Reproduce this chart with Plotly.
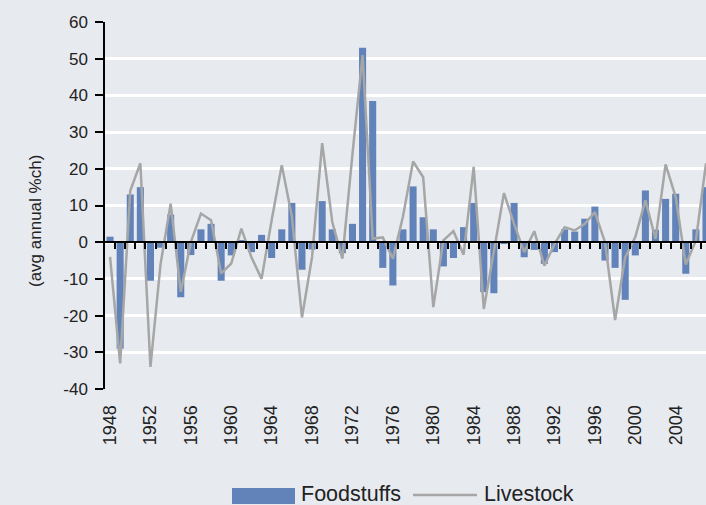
import plotly.graph_objects as go

years = list(range(1948, 2008))
foodstuffs = [1.5, -29, 13, 15, -10.5, -1.5, 7.5, -15, -3.5, 3.5,
              5, -10.5, -3.6, 0.6, -2.7, 2, -4.3, 3.5, 10.7, -7.5,
              -2, 11.2, 3.5, -3, 5, 53, 38.5, -7, -11.8, 3.5,
              15.2, 6.8, 3.5, -6.6, -4.3, 4.1, 10.7, -13.6, -13.9, -0.5,
              10.7, -4.1, -2.1, -5.9, -2.7, 3.5, 2.9, 6.4, 9.7, -5,
              -7, -15.7, -3.6, 14.1, 3.4, 11.8, 13.2, -8.6, 3.5, 15]
livestock = [-4, -33, 14, 21.5, -34, -6, 10.5, -13.5, 0, 7.8,
             6, -8.5, -5.8, 3.7, -4.1, -10, 6, 21, 7, -20.5,
             -4, 27, 5.5, -4.5, 24, 51, 1, 1.3, -4.5, 7,
             22, 17.7, -17.7, 0.5, 3, -3.4, 20.5, -18.2, -2.5, 13.4,
             5, -2.7, 3, -6.4, -0.5, 4.1, 3.2, 5, 8.2, 0,
             -21.2, -4.1, 1.4, 11.4, 0.9, 21.2, 12.3, -6.1, 0.5, 21.5]
tick_years = list(range(1948, 2005, 4))
y_ticks = list(range(-40, 61, 10))

BG = "#E7EAEF"
BAR = "#6283B9"
LINE = "#A6A6A6"
FONT = "Liberation Sans, Arial, sans-serif"

L, R, T, B = 105, 0, 22, 116
W, H = 706, 505
pw = W - L - R
ph = H - T - B
def px(x): return (x - L) / pw
def py(y): return (H - B - y) / ph

fig = go.Figure()
fig.add_trace(go.Bar(x=years, y=foodstuffs, name="Foodstuffs",
                     marker=dict(color=BAR, line=dict(width=0)),
                     showlegend=False))
fig.add_trace(go.Scatter(x=years, y=livestock, name="Livestock", mode="lines",
                         line=dict(color=LINE, width=2.5), xaxis="x2",
                         showlegend=False))

xr = [1947.5, 2007.0]
fig.update_layout(
    width=W, height=H,
    margin=dict(l=L, r=R, t=T, b=B, pad=0),
    paper_bgcolor=BG, plot_bgcolor=BG,
    bargap=0.3,
    font=dict(family=FONT, color="#222222", size=16),
    xaxis=dict(range=xr, tickmode="array", tickvals=tick_years,
               ticktext=[str(y) for y in tick_years], tickangle=-90,
               showgrid=False, zeroline=False, showline=False,
               ticks="outside", ticklen=8, tickcolor="rgba(0,0,0,0)",
               tickfont=dict(size=18)),
    xaxis2=dict(range=xr, overlaying="x", anchor="free", position=0.4,
                showgrid=False, zeroline=False, showline=True,
                linecolor="black", linewidth=1.5,
                tickmode="array", tickvals=[y + 0.5 for y in years],
                ticks="outside", ticklen=6, tickcolor="black", tickwidth=1.5,
                showticklabels=False),
    yaxis=dict(range=[-40, 60], tickmode="array", tickvals=y_ticks,
               ticktext=[str(v) for v in y_ticks],
               showgrid=True, gridcolor="white", gridwidth=2.5,
               zeroline=False, showline=True, linecolor="black", linewidth=1.5,
               ticks="outside", ticklen=8, tickcolor="black", tickwidth=1.5,
               ticklabelstandoff=4, tickfont=dict(size=17)),
)

fig.add_annotation(text="(avg annual %ch)", x=px(35), y=py(221),
                   xref="paper", yref="paper", showarrow=False,
                   textangle=-90, font=dict(size=17),
                   xanchor="center", yanchor="middle")

# legend
fig.add_shape(type="rect", xref="paper", yref="paper",
              x0=px(232), x1=px(295), y0=py(504), y1=py(488),
              fillcolor=BAR, line=dict(width=0))
fig.add_annotation(text="Foodstuffs", x=px(299), y=py(494),
                   xref="paper", yref="paper", showarrow=False,
                   xanchor="left", yanchor="middle", font=dict(size=21.5))
fig.add_shape(type="line", xref="paper", yref="paper",
              x0=px(413), x1=px(477), y0=py(495), y1=py(495),
              line=dict(color=LINE, width=2.5))
fig.add_annotation(text="Livestock", x=px(482), y=py(494),
                   xref="paper", yref="paper", showarrow=False,
                   xanchor="left", yanchor="middle", font=dict(size=21.5))

fig.write_html("out.html", config={"displayModeBar": False},
               post_script="document.body.style.margin='0';document.body.style.overflow='hidden';")
